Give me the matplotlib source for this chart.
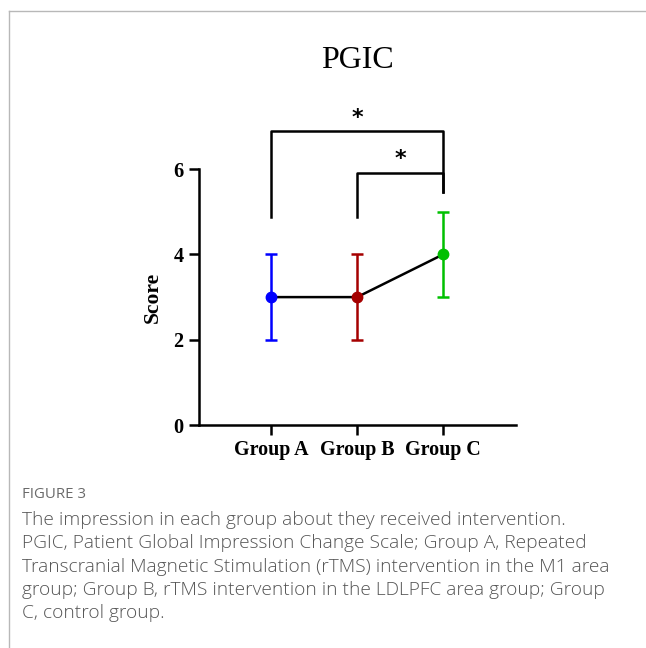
import matplotlib
matplotlib.use('Agg')
import matplotlib.pyplot as plt
from matplotlib.lines import Line2D

groups = ['Group A', 'Group B', 'Group C']
means = [3, 3, 4]
errors = [1, 1, 1]
colors = ['#0000ff', '#a50000', '#00c000']
yticks = [0, 2, 4, 6]

caption_head = 'FIGURE 3'
caption_lines = [
    'The impression in each group about they received intervention.',
    'PGIC, Patient Global Impression Change Scale; Group A, Repeated',
    'Transcranial Magnetic Stimulation (rTMS) intervention in the M1 area',
    'group; Group B, rTMS intervention in the LDLPFC area group; Group',
    'C, control group.',
]

serif = 'Liberation Serif'

fig = plt.figure(figsize=(6.46, 6.48), dpi=100)
ax = fig.add_axes([0.308, 0.344, 0.491, 0.395])

x = list(range(len(groups)))
ax.plot(x, means, color='black', lw=1.8, zorder=2)
for i in x:
    ax.errorbar(i, means[i], yerr=errors[i], fmt='o', color=colors[i],
                ms=7.5, capsize=4.5, elinewidth=1.8, capthick=1.8, zorder=3)

ax.set_xlim(-0.84, 2.85)
ax.set_ylim(0, 6)
ax.set_xticks(x)
ax.set_xticklabels(groups, fontfamily=serif, fontweight='bold', fontsize=14.4)
ax.set_yticks(yticks)
ax.set_yticklabels([str(v) for v in yticks], fontfamily=serif, fontweight='bold', fontsize=14.6)
ax.tick_params(width=1.8, length=7, pad=4)
ax.spines['top'].set_visible(False)
ax.spines['right'].set_visible(False)
for s in ['left', 'bottom']:
    ax.spines[s].set_linewidth(1.8)
ax.set_ylabel('Score', fontfamily=serif, fontweight='bold', fontsize=15.5, labelpad=8)
ax.set_title('PGIC', fontfamily=serif, fontsize=23, pad=73)

# significance brackets
ax.plot([0, 0, 2, 2], [4.87, 6.9, 6.9, 5.46], color='black', lw=1.8, clip_on=False)
ax.plot([1, 1, 2, 2], [4.87, 5.92, 5.92, 5.46], color='black', lw=1.8, clip_on=False)
ax.text(1, 7.2, '*', ha='center', va='center', fontsize=16, fontweight='bold', clip_on=False)
ax.text(1.5, 6.23, '*', ha='center', va='center', fontsize=16, fontweight='bold', clip_on=False)

# frame lines
fig.add_artist(Line2D([9 / 646, 1], [1 - 11 / 648, 1 - 11 / 648], color='#b8b8b8', lw=1))
fig.add_artist(Line2D([9 / 646, 9 / 646], [0, 1 - 11 / 648], color='#b8b8b8', lw=1))

fig.text(22 / 646, 1 - 494 / 648, caption_head, fontfamily='Open Sans', fontsize=10.8,
         color='#6a6a6a', va='center')
fig.text(22 / 646, 1 - 511 / 648, '\n'.join(caption_lines), fontfamily='Open Sans',
         fontsize=13.8, color='#555555', va='top', linespacing=1.38, fontweight='light')

fig.savefig('out.png', dpi=100)
